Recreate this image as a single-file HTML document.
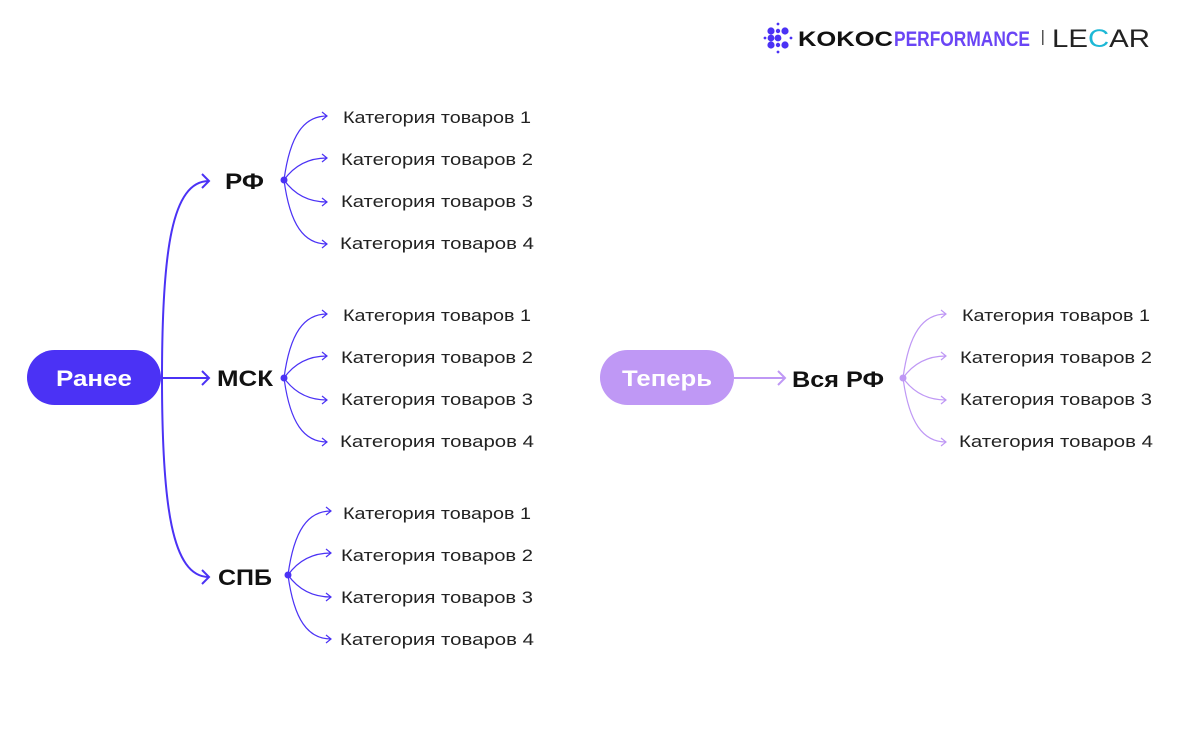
<!DOCTYPE html>
<html><head><meta charset="utf-8"><style>
html,body{margin:0;padding:0;background:#fff;}
svg{display:block;}
text{font-family:"Liberation Sans",sans-serif;}
</style></head><body>
<svg width="1200" height="755" viewBox="0 0 1200 755" xmlns="http://www.w3.org/2000/svg">
<defs>
<g id="br">
  <path d="M0,0 C6,-45 20,-64 43,-64 M0,0 C10,-14 24,-22 43,-22 M0,0 C10,14 24,22 43,22 M0,0 C6,45 20,64 43,64" fill="none" stroke-width="1.2"/>
  <path d="M38,-68 L43,-64 L38,-60 M38,-26 L43,-22 L38,-18 M38,18 L43,22 L38,26 M38,60 L43,64 L38,68" fill="none" stroke-width="1.2"/>
  <circle r="3.5" stroke="none"/>
</g>
<g id="cats" fill="#222" font-size="17">
  <text x="59" y="-57" textLength="188" lengthAdjust="spacingAndGlyphs">Категория товаров 1</text>
  <text x="57" y="-15" textLength="192" lengthAdjust="spacingAndGlyphs">Категория товаров 2</text>
  <text x="57" y="27" textLength="192" lengthAdjust="spacingAndGlyphs">Категория товаров 3</text>
  <text x="56" y="69" textLength="194" lengthAdjust="spacingAndGlyphs">Категория товаров 4</text>
</g>
</defs>

<!-- logo -->
<g fill="#4b32f5">
  <circle cx="771" cy="31" r="3.6"/><circle cx="771" cy="38" r="3.4"/><circle cx="771" cy="45" r="3.6"/>
  <circle cx="778" cy="38" r="3.4"/><circle cx="785" cy="31" r="3.6"/><circle cx="785" cy="45" r="3.6"/>
  <circle cx="778" cy="31" r="2.2"/><circle cx="778" cy="45" r="2.2"/>
  <circle cx="778" cy="24" r="1.4"/><circle cx="778" cy="52" r="1.4"/><circle cx="765" cy="38" r="1.4"/><circle cx="791" cy="38" r="1.4"/>
</g>
<text x="798" y="46" font-size="21" font-weight="bold" fill="#111" textLength="95" lengthAdjust="spacingAndGlyphs">KOKOC</text>
<text x="894" y="46" font-size="21" font-weight="bold" fill="#6a45f5" textLength="136" lengthAdjust="spacingAndGlyphs">PERFORMANCE</text>
<rect x="1042" y="30" width="1.5" height="15" fill="#555"/>
<text x="1052" y="47" font-size="25" fill="#222" textLength="98" lengthAdjust="spacingAndGlyphs">LE<tspan fill="#1db8d6">C</tspan>AR</text>

<!-- Ранее -->
<rect x="27" y="350" width="134" height="55" rx="27.5" fill="#4b32f5"/>
<text x="94" y="386" font-size="22" font-weight="bold" fill="#fff" text-anchor="middle" textLength="76" lengthAdjust="spacingAndGlyphs">Ранее</text>
<g stroke="#4b32f5" stroke-width="2" fill="none">
  <path d="M161,378 L209,378 M202,371 L209,378 L202,385"/>
  <path d="M162,378 C162,250 172,181 209,181 M202,174 L209,181 L202,188"/>
  <path d="M162,378 C162,506 172,577 209,577 M202,570 L209,577 L202,584"/>
</g>
<g font-size="22" font-weight="bold" fill="#111">
  <text x="225" y="189" textLength="39" lengthAdjust="spacingAndGlyphs">РФ</text>
  <text x="217" y="386" textLength="56" lengthAdjust="spacingAndGlyphs">МСК</text>
  <text x="218" y="585" textLength="54" lengthAdjust="spacingAndGlyphs">СПБ</text>
</g>
<g stroke="#4b32f5" fill="#4b32f5">
  <use href="#br" x="284" y="180"/>
  <use href="#br" x="284" y="378"/>
  <use href="#br" x="288" y="575"/>
</g>
<use href="#cats" x="284" y="180"/>
<use href="#cats" x="284" y="378"/>
<use href="#cats" x="284" y="576"/>

<!-- Теперь -->
<rect x="600" y="350" width="134" height="55" rx="27.5" fill="#bf98f5"/>
<text x="667" y="386" font-size="22" font-weight="bold" fill="#fff" text-anchor="middle" textLength="90" lengthAdjust="spacingAndGlyphs">Теперь</text>
<g stroke="#bf98f5" stroke-width="2" fill="none">
  <path d="M734,378 L785,378 M778,371 L785,378 L778,385"/>
</g>
<text x="792" y="387" font-size="22" font-weight="bold" fill="#111" textLength="92" lengthAdjust="spacingAndGlyphs">Вся РФ</text>
<g stroke="#bf98f5" fill="#bf98f5">
  <use href="#br" x="903" y="378"/>
</g>
<use href="#cats" x="903" y="378"/>
</svg>
</body></html>
